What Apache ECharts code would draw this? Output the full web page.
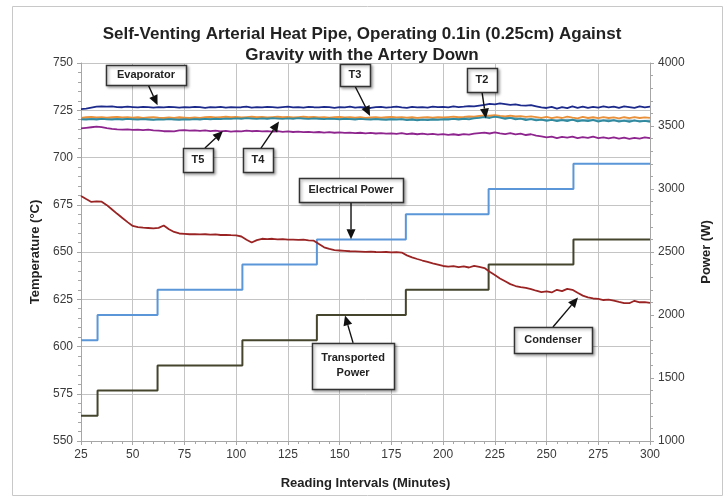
<!DOCTYPE html>
<html>
<head>
<meta charset="utf-8">
<title>Self-Venting Arterial Heat Pipe</title>
<script src="https://cdn.jsdelivr.net/npm/echarts@6/dist/echarts.min.js"></script>
<style>
html, body { margin: 0; padding: 0; background: #fff; }
#main { width: 724px; height: 497px; }
</style>
</head>
<body>
<div id="main"></div>
<script>
// reading times (minutes), one sample every 2.5 min
var minutes = [
	25, 27.5, 30, 32.5, 35, 37.5, 40, 42.5, 45, 47.5,
	50, 52.5, 55, 57.5, 60, 62.5, 65, 67.5, 70, 72.5,
	75, 77.5, 80, 82.5, 85, 87.5, 90, 92.5, 95, 97.5,
	100, 102.5, 105, 107.5, 110, 112.5, 115, 117.5, 120, 122.5,
	125, 127.5, 130, 132.5, 135, 137.5, 140, 142.5, 145, 147.5,
	150, 152.5, 155, 157.5, 160, 162.5, 165, 167.5, 170, 172.5,
	175, 177.5, 180, 182.5, 185, 187.5, 190, 192.5, 195, 197.5,
	200, 202.5, 205, 207.5, 210, 212.5, 215, 217.5, 220, 222.5,
	225, 227.5, 230, 232.5, 235, 237.5, 240, 242.5, 245, 247.5,
	250, 252.5, 255, 257.5, 260, 262.5, 265, 267.5, 270, 272.5,
	275, 277.5, 280, 282.5, 285, 287.5, 290, 292.5, 295, 297.5,
	300
];
// coarser readings for T4
var minutes5 = [
	25, 30, 35, 40, 45, 50, 55, 60, 65, 70,
	75, 80, 85, 90, 95, 100, 105, 110, 115, 120,
	125, 130, 135, 140, 145, 150, 155, 160, 165, 170,
	175, 180, 185, 190, 195, 200, 205, 210, 215, 220,
	225, 230, 235, 240, 245, 250, 255, 260, 265, 270,
	275, 280, 285, 290, 295, 300
];

var evaporator = [
	725.6, 725.9, 726.4, 726.9, 727.1, 726.9, 727.0, 726.7, 726.6, 726.9,
	726.7, 726.5, 726.8, 726.6, 726.4, 726.7, 726.5, 726.8, 726.6, 726.4,
	726.7, 726.5, 726.8, 726.6, 726.3, 726.7, 726.5, 726.8, 726.4, 726.7,
	726.5, 726.6, 726.9, 726.4, 726.7, 726.5, 726.8, 726.6, 726.4, 726.7,
	726.9, 726.5, 726.7, 726.4, 726.8, 726.6, 726.5, 726.8, 726.6, 726.3,
	726.7, 726.5, 726.9, 726.4, 726.7, 726.5, 726.2, 726.6, 726.8, 726.4,
	726.6, 726.9, 726.5, 726.3, 726.8, 726.5, 726.7, 726.4, 726.9, 726.6,
	726.8, 726.5, 727.0, 726.7, 726.9, 727.2, 727.0, 727.5, 727.9, 728.4,
	728.1, 728.6, 728.2, 727.8, 728.1, 727.6, 727.4, 727.7, 727.1, 726.5,
	726.2, 726.8, 725.9, 726.6, 726.1, 727.0, 726.3, 726.9, 726.2, 726.8,
	726.4, 727.1, 726.5, 726.9, 726.3, 727.0, 726.6, 726.2, 727.0, 726.5,
	726.9
];
var t3 = [
	721.0, 721.3, 721.5, 721.2, 721.4, 721.1, 721.3, 721.5, 721.2, 721.4,
	721.1, 721.3, 721.0, 721.2, 721.4, 721.1, 720.9, 721.2, 721.0, 721.3,
	721.1, 720.9, 721.2, 721.0, 721.3, 721.5, 721.2, 721.4, 721.6, 721.3,
	721.5, 721.2, 721.4, 721.6, 721.3, 721.5, 721.2, 721.4, 721.6, 721.3,
	721.5, 721.2, 721.4, 721.6, 721.3, 721.5, 721.2, 721.4, 721.1, 721.3,
	721.5, 721.2, 721.4, 721.1, 721.3, 721.0, 721.2, 721.4, 721.1, 721.3,
	721.5, 721.2, 721.4, 721.1, 721.3, 721.0, 721.2, 721.4, 721.1, 721.3,
	721.2, 721.4, 721.6, 721.3, 721.5, 721.8, 721.6, 722.0, 722.3, 722.1,
	722.4, 722.0, 721.8, 722.1, 721.7, 721.9, 721.5, 721.8, 721.4, 721.0,
	721.5, 720.8, 721.4, 720.9, 721.6, 721.1, 720.7, 721.5, 720.9, 721.3,
	720.8, 721.4, 720.9, 721.2, 720.7, 721.3, 720.8, 721.4, 720.9, 721.2,
	721.0
];
var t2 = [
	720.2, 720.0, 720.3, 720.1, 720.4, 720.2, 720.0, 720.3, 720.1, 720.4,
	720.2, 720.0, 720.3, 720.1, 719.9, 720.2, 720.0, 720.3, 720.1, 719.9,
	720.2, 720.0, 720.3, 720.1, 720.4, 720.2, 720.5, 720.3, 720.6, 720.4,
	720.7, 720.5, 720.8, 720.6, 720.4, 720.7, 720.5, 720.8, 720.6, 720.4,
	720.7, 720.5, 720.8, 720.6, 720.4, 720.7, 720.5, 720.3, 720.6, 720.4,
	720.2, 720.5, 720.3, 720.1, 720.4, 720.2, 720.0, 720.3, 720.1, 719.9,
	720.2, 720.0, 720.3, 719.8, 720.1, 719.7, 720.0, 719.8, 720.1, 719.9,
	720.2, 720.0, 720.4, 720.1, 720.5, 720.2, 720.7, 721.0, 721.4, 720.9,
	721.6, 721.1, 720.5, 721.0, 720.2, 720.6, 719.8, 720.3, 719.6, 720.1,
	719.4, 719.9, 719.2, 719.8, 719.3, 720.0, 719.1, 719.7, 719.2, 719.9,
	719.0, 719.6, 719.1, 719.8, 719.0, 719.5, 718.9, 719.6, 719.0, 719.4,
	718.9
];
var t4 = [
	720.5, 720.6, 720.4, 720.5, 720.3, 720.5, 720.4, 720.2, 720.4, 720.3,
	720.5, 720.4, 720.6, 720.7, 720.8, 720.9, 720.8, 720.9, 720.7, 720.9,
	720.8, 720.9, 720.7, 720.8, 720.6, 720.5, 720.6, 720.4, 720.5, 720.3,
	720.4, 720.2, 720.3, 720.1, 720.3, 720.4, 720.6, 720.8, 721.1, 721.6,
	721.8, 721.2, 720.8, 720.4, 720.2, 719.9, 719.8, 720.0, 719.7, 719.8,
	719.6, 719.7, 719.5, 719.6, 719.4, 719.5
];
var t5 = [
	715.4, 715.7, 716.0, 716.3, 716.1, 715.6, 715.2, 714.9, 714.7, 714.9,
	714.6, 714.8, 714.5, 714.7, 714.4, 714.2, 713.9, 714.0, 713.8, 714.3,
	714.5, 714.2, 714.4, 714.1, 714.3, 714.0, 714.2, 713.8, 714.1, 713.7,
	714.0, 713.8, 714.2, 713.9, 714.1, 713.8, 714.0, 713.7, 713.9, 713.6,
	713.8, 713.5, 713.7, 713.4, 713.6, 713.3, 713.5, 713.2, 713.4, 713.1,
	713.3, 713.0, 713.2, 712.9, 713.1, 712.8, 713.0, 712.7, 712.9, 712.6,
	712.8, 712.5, 712.9, 712.4, 712.7, 712.3, 712.6, 712.2, 712.5, 712.1,
	712.4, 712.0, 712.3, 711.9, 712.4, 712.1, 712.6, 712.9, 713.2, 712.7,
	713.3, 712.8, 712.4, 712.9, 712.2, 712.6, 711.9, 712.3, 711.6, 711.2,
	710.6, 711.1, 710.3, 710.9, 710.5, 711.0, 710.2, 710.8, 710.4, 711.0,
	710.3, 710.7, 710.1, 710.6, 710.0, 710.5, 709.9, 710.4, 710.0, 710.6,
	710.2
];
var condenser = [
	679.6, 678.0, 676.5, 676.8, 676.6, 674.8, 672.5, 670.2, 668.0, 665.8,
	663.8, 663.2, 662.9, 662.7, 662.5, 662.8, 664.0, 662.0, 660.6, 659.8,
	659.6, 659.4, 659.5, 659.3, 659.4, 659.2, 659.3, 659.0, 659.1, 658.9,
	658.8, 658.2, 656.5, 655.0, 656.3, 657.0, 656.8, 657.0, 656.7, 656.8,
	656.6, 656.5, 656.4, 656.5, 656.2, 656.0, 654.2, 652.5, 651.6, 651.0,
	650.8, 650.6, 650.4, 650.3, 650.2, 650.1, 650.2, 650.0, 649.9, 650.0,
	649.8, 649.9, 649.7, 648.2, 647.2, 646.3, 645.5, 644.8, 644.0, 643.3,
	642.6, 642.3, 642.5, 642.0, 642.4, 641.8, 642.6, 642.1, 641.5, 639.5,
	637.8, 636.0, 634.5, 633.0, 632.0, 631.4, 631.0, 630.4, 629.5, 628.8,
	629.2, 628.6, 630.0, 629.3, 630.5, 630.0, 628.4, 626.9, 626.0, 625.4,
	625.2, 624.6, 624.8, 624.3, 623.6, 623.0, 622.9, 624.2, 623.4, 623.5,
	623.1
];

// power steps (W), value held from each minute to the next
var stepMinutes = [25, 33, 62, 103, 139, 182, 222, 263, 300];
var electricalPower = [1800, 2000, 2200, 2400, 2600, 2800, 3000, 3200, 3200];
var transportedPower = [1200, 1400, 1600, 1800, 2000, 2200, 2400, 2600, 2600];

// call-outs: box centre, arrow tail and tip in [minute, degC]
var notes = [
	{text: 'Evaporator', box: [56.4, 743.7], w: 80, h: 20, tail: [57.5, 738.4], tip: [62, 727.6]},
	{text: 'T3', box: [157.4, 743.7], w: 30, h: 22, tail: [157.4, 737.8], tip: [164.7, 722.0]},
	{text: 'T2', box: [218.8, 741.0], w: 30, h: 24, tail: [218.8, 734.7], tip: [220.7, 720.6]},
	{text: 'T5', box: [81.5, 698.7], w: 30, h: 24, tail: [84.9, 705.0], tip: [93.6, 714.0]},
	{text: 'T4', box: [110.5, 698.7], w: 30, h: 24, tail: [112.0, 705.0], tip: [120.7, 719.0]},
	{text: 'Electrical Power', box: [155.5, 682.8], w: 104, h: 24, tail: [155.5, 676.5], tip: [155.5, 656.8]},
	{text: 'Transported\nPower', box: [156.5, 589.7], w: 82, h: 46, tail: [156.5, 601.9], tip: [152.6, 616.4]},
	{text: 'Condenser', box: [253.1, 603.4], w: 78, h: 26, tail: [253.1, 610.3], tip: [265.2, 625.9]}
];

var font = 'Liberation Sans';

function pairs(xs, ys) {
	return xs.map(function (x, i) {
		return [x, ys[i]];
	});
}

function tempLine(name, color, xs, ys, width) {
	return {
		name: name,
		type: 'line',
		yAxisIndex: 0,
		data: pairs(xs, ys),
		showSymbol: false,
		silent: true,
		lineStyle: {color: color, width: width || 1.8}
	};
}

function powerLine(name, color, ys) {
	return {
		name: name,
		type: 'line',
		yAxisIndex: 1,
		step: 'end',
		data: pairs(stepMinutes, ys),
		showSymbol: false,
		silent: true,
		lineStyle: {color: color, width: 2}
	};
}

var axisColor = '#a6a6a6';
var labelStyle = {color: '#3a3a3a', fontSize: 12, fontFamily: font};
var nameStyle = {color: '#222', fontSize: 13, fontWeight: 'bold', fontFamily: font};

var chart = echarts.init(document.getElementById('main'));

var option = {
	animation: false,
	title: {
		text: 'Self-Venting Arterial Heat Pipe, Operating 0.1in (0.25cm) Against\nGravity with the Artery Down',
		left: 'center',
		top: 19,
		textStyle: {fontSize: 17, fontWeight: 'bold', fontFamily: font, color: '#222', lineHeight: 21}
	},
	grid: {left: 81, right: 74, top: 63, bottom: 56, containLabel: false},
	xAxis: {
		type: 'value',
		min: 25,
		max: 300,
		interval: 25,
		name: 'Reading Intervals (Minutes)',
		nameLocation: 'middle',
		nameGap: 36,
		nameTextStyle: nameStyle,
		axisLine: {lineStyle: {color: axisColor}},
		axisTick: {length: 4, lineStyle: {color: axisColor}},
		minorTick: {show: true, splitNumber: 5, length: 3, lineStyle: {color: axisColor}},
		axisLabel: labelStyle,
		splitLine: {show: true, lineStyle: {color: '#c4c4c4'}}
	},
	yAxis: [{
		type: 'value',
		min: 550,
		max: 750,
		interval: 25,
		name: 'Temperature (°C)',
		nameLocation: 'middle',
		nameRotate: 90,
		nameGap: 39,
		nameTextStyle: nameStyle,
		axisLine: {show: true, lineStyle: {color: axisColor}},
		axisTick: {show: true, length: 4, lineStyle: {color: axisColor}},
		minorTick: {show: true, splitNumber: 5, length: 3, lineStyle: {color: axisColor}},
		axisLabel: labelStyle,
		splitLine: {show: true, lineStyle: {color: '#c4c4c4'}}
	}, {
		type: 'value',
		min: 1000,
		max: 4000,
		interval: 500,
		position: 'right',
		name: 'Power (W)',
		nameLocation: 'middle',
		nameRotate: 90,
		nameGap: 50,
		nameTextStyle: nameStyle,
		axisLine: {show: true, lineStyle: {color: axisColor}},
		axisTick: {show: true, length: 4, lineStyle: {color: axisColor}},
		minorTick: {show: true, splitNumber: 5, length: 3, lineStyle: {color: axisColor}},
		axisLabel: {
			color: labelStyle.color, fontSize: 12, fontFamily: font,
			formatter: function (v) { return String(v); }
		},
		splitLine: {show: false}
	}],
	series: [
		powerLine('Electrical Power', '#5a96d8', electricalPower),
		powerLine('Transported Power', '#45452e', transportedPower),
		tempLine('Condenser', '#9a2424', minutes, condenser),
		tempLine('T4', '#6fa3b6', minutes5, t4),
		tempLine('T3', '#e8903a', minutes, t3),
		tempLine('T2', '#2f8aa0', minutes, t2),
		tempLine('T5', '#8e248e', minutes, t5),
		tempLine('Evaporator', '#1c2a8c', minutes, evaporator)
	]
};

chart.setOption(option);

// call-out boxes and arrows
function toPx(p) {
	return chart.convertToPixel({xAxisIndex: 0, yAxisIndex: 0}, p);
}

var elements = [{
	type: 'rect',
	shape: {x: 12.5, y: 6.5, width: 710, height: 489},
	style: {fill: null, stroke: '#c8c8c8', lineWidth: 1},
	silent: true,
	z: 0
}];

notes.forEach(function (n) {
	var c = toPx(n.box), a = toPx(n.tail), b = toPx(n.tip);
	var ang = Math.atan2(b[1] - a[1], b[0] - a[0]);
	var hl = 10, hw = 4.5;
	var base = [b[0] - hl * Math.cos(ang), b[1] - hl * Math.sin(ang)];
	elements.push({
		type: 'line',
		shape: {x1: a[0], y1: a[1], x2: base[0], y2: base[1]},
		style: {stroke: '#111', lineWidth: 1.4},
		silent: true,
		z: 100
	});
	elements.push({
		type: 'polygon',
		shape: {points: [
			b,
			[base[0] + hw * Math.sin(ang), base[1] - hw * Math.cos(ang)],
			[base[0] - hw * Math.sin(ang), base[1] + hw * Math.cos(ang)]
		]},
		style: {fill: '#111'},
		silent: true,
		z: 100
	});
	elements.push({
		type: 'rect',
		shape: {x: Math.round(c[0] - n.w / 2) + 0.5, y: Math.round(c[1] - n.h / 2) + 0.5, width: n.w, height: n.h},
		style: {
			fill: '#fff', stroke: '#333', lineWidth: 1.5,
			shadowBlur: 3, shadowColor: 'rgba(0,0,0,0.35)', shadowOffsetX: 1.5, shadowOffsetY: 1.5
		},
		silent: true,
		z: 101
	});
	elements.push({
		type: 'text',
		x: c[0],
		y: c[1],
		style: {
			text: n.text, fill: '#222', font: 'bold 11px "' + font + '"',
			align: 'center', verticalAlign: 'middle', lineHeight: 15
		},
		silent: true,
		z: 102
	});
});

chart.setOption({graphic: elements});
</script>
</body>
</html>
